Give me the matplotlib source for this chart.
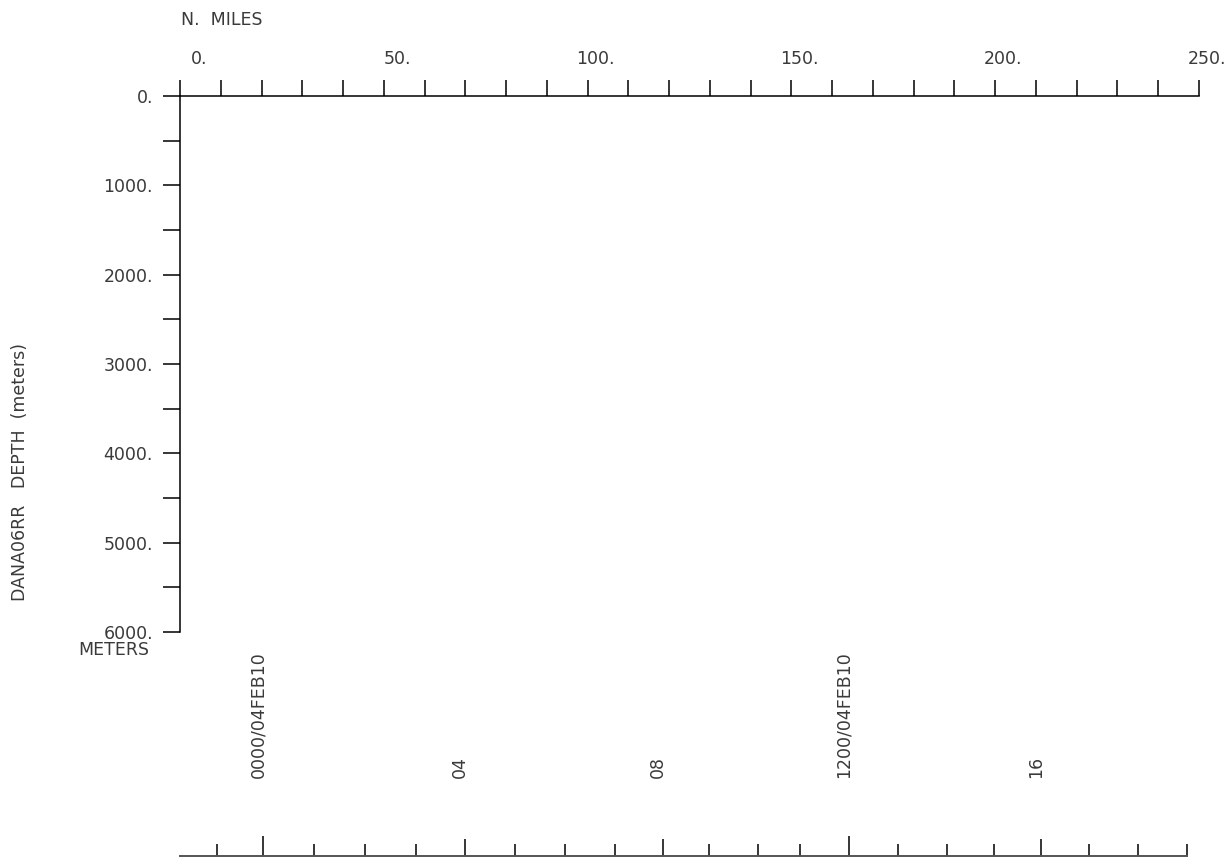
import matplotlib
matplotlib.use('Agg')
import matplotlib.pyplot as plt
import matplotlib.transforms as mtransforms

# distance axis (nautical miles)
mile_ticks = list(range(0, 260, 10))
mile_labels = [0, 50, 100, 150, 200, 250]

# depth axis (meters)
depth_ticks = list(range(0, 6500, 500))
depth_labels = [0, 1000, 2000, 3000, 4000, 5000, 6000]

# time ticks: hours from 0000/04FEB10 and where the ship was (miles)
time_hours = [-1, 0, 1, 2, 3, 4, 5, 6, 7, 8, 9, 10, 11, 12, 13, 14, 15, 16, 17, 18, 19]
time_miles = [9.1, 20.4, 32.9, 45.4, 57.9, 69.9, 82.2, 94.5, 106.7, 118.5, 129.8,
              141.8, 152.1, 164.1, 176.2, 188.2, 199.7, 211.2, 223.0, 235.0, 247.1]
time_text = {0: '0000/04FEB10', 4: '04', 8: '08', 12: '1200/04FEB10', 16: '16'}

W, H, DPI = 1230, 857, 100
TXT = '#3a3a3a'
FS = 12.5
plt.rcParams['font.family'] = ['DejaVu Sans']

fig = plt.figure(figsize=(W / DPI, H / DPI), dpi=DPI)
ax = fig.add_axes([180 / W, 225 / H, 1019 / W, 536 / H])
ax.set_xlim(0, 250)
ax.set_ylim(6000, 0)
for s in ['right', 'bottom']:
    ax.spines[s].set_visible(False)
for s in ['left', 'top']:
    ax.spines[s].set_linewidth(1.1)

# top distance ticks, labels sit right-aligned a little past each tick
ax.xaxis.tick_top()
ax.set_xticks(mile_ticks)
ax.set_xticklabels([])
ax.tick_params(axis='x', direction='out', length=16 * 72 / DPI, width=1.1, color='black')
for m in mile_labels:
    tr = mtransforms.offset_copy(ax.get_xaxis_transform(), fig=fig, x=27, y=32, units='dots')
    ax.text(m, 1.0, f'{m}.', transform=tr, ha='right', va='baseline', fontsize=FS, color=TXT)

ax.set_yticks(depth_ticks)
ax.set_yticklabels([f'{d}.' if d in depth_labels else '' for d in depth_ticks],
                   fontsize=FS, color=TXT)
ax.tick_params(axis='y', direction='out', length=17 * 72 / DPI, width=1.1,
               pad=10 * 72 / DPI, color='black')

fig.text(181 / W, (H - 20) / H, 'N.  MILES', ha='left', va='center', fontsize=FS, color=TXT)
fig.text(149 / W, (H - 650) / H, 'METERS', ha='right', va='center', fontsize=FS, color=TXT)
fig.text(20 / W, 385 / H, 'DANA06RR   DEPTH  (meters)', rotation=90,
         ha='center', va='center', fontsize=FS, color=TXT)

# time axis along the bottom
ax2 = fig.add_axes([180 / W, 1 / H, 1019 / W, 30 / H])
ax2.set_xlim(0, 250)
ax2.set_ylim(0, 30)
ax2.patch.set_visible(False)
for s in ['left', 'right', 'top']:
    ax2.spines[s].set_visible(False)
ax2.spines['bottom'].set_color('#555555')
ax2.spines['bottom'].set_linewidth(1.4)
ax2.spines['bottom'].set_bounds(0, time_miles[-1])
ax2.set_xticks([])
ax2.set_yticks([])

lengths = []
for h in time_hours:
    if h % 12 == 0:
        lengths.append(20)
    elif h % 4 == 0:
        lengths.append(17)
    else:
        lengths.append(12)
ax2.vlines(time_miles, 0, lengths, color='black', linewidth=1.1)

lab_tr = mtransforms.offset_copy(ax2.transData, fig=fig, x=-5, y=0, units='dots')
for h, m in zip(time_hours, time_miles):
    if h in time_text:
        ax2.text(m, 78, time_text[h], transform=lab_tr, rotation=90, ha='center',
                 va='bottom', fontsize=FS, color=TXT, clip_on=False)

fig.savefig('out.png', dpi=DPI)
